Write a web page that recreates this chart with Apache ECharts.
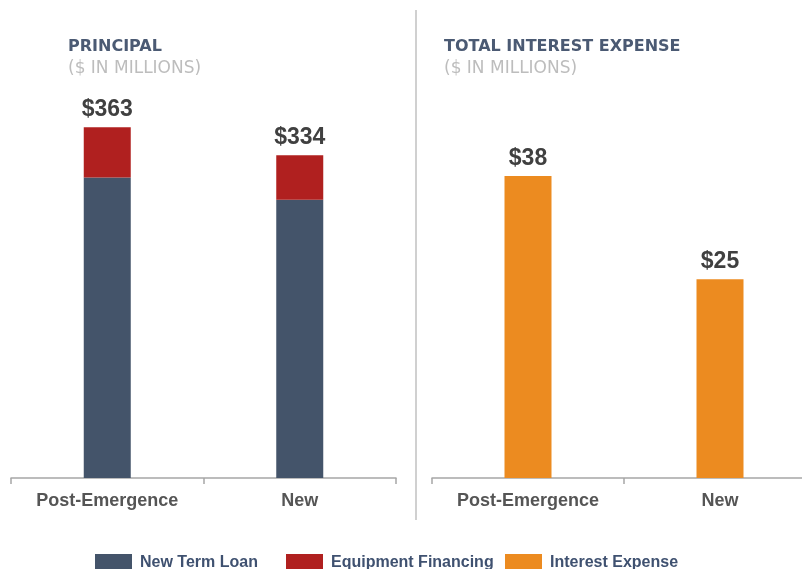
<!DOCTYPE html>
<html>
<head>
<meta charset="utf-8">
<script src="https://cdn.jsdelivr.net/npm/echarts@6/dist/echarts.min.js"></script>
<style>
  html, body { margin: 0; padding: 0; background: #fff; }
  #chart { width: 802px; height: 569px; }
</style>
</head>
<body>
<div id="chart"></div>
<script>
// categories shared by both panels
var categories = ['Post-Emergence', 'New'];

// principal ($ millions), stacked
var termLoan = [311, 288];
var equipFinancing = [52, 46];

// total interest expense ($ millions)
var interestExpense = [38, 25];

var principalTotals = termLoan.map(function (v, i) { return v + equipFinancing[i]; });

var blue = '#44546a', red = '#b0201f', orange = '#ec8b20';
var labelFont = 'Liberation Sans, Arial, sans-serif';

var chart = echarts.init(document.getElementById('chart'));

function xAxisFor(idx) {
    return {
        type: 'category',
        gridIndex: idx,
        data: categories,
        axisLine: { lineStyle: { color: '#a6a6a6', width: 1.5 } },
        axisTick: { show: true, length: 6, lineStyle: { color: '#a6a6a6', width: 1.5 } },
        axisLabel: {
            margin: 14,
            fontFamily: labelFont,
            fontSize: 18,
            fontWeight: 'bold',
            color: '#555555'
        }
    };
}

function yAxisFor(idx, max) {
    return {
        type: 'value',
        gridIndex: idx,
        min: 0,
        max: max,
        show: false,
        splitLine: { show: false }
    };
}

// one legend per item, the gaps in the original are uneven
function legendFor(name, left) {
    return {
        left: left,
        top: 549,
        icon: 'rect',
        itemWidth: 37,
        itemHeight: 18,
        data: [name],
        textStyle: {
            fontFamily: labelFont,
            fontSize: 16,
            fontWeight: 'bold',
            color: '#3f5170',
            padding: [0, 0, 0, 3]
        }
    };
}

var valueLabel = {
    show: true,
    position: 'top',
    distance: 6,
    fontFamily: labelFont,
    fontSize: 23,
    fontWeight: 'bold',
    color: '#404040'
};

var titleStyle = { fontFamily: 'DejaVu Sans', fontSize: 16, fontWeight: 'bold', color: '#4b5a73' };
var subStyle = { fontFamily: 'DejaVu Sans', fontSize: 17, color: '#bdbdbd' };

var option = {
    animation: false,
    title: [
        {
            text: 'PRINCIPAL',
            subtext: '($ IN MILLIONS)',
            left: 63,
            top: 34,
            itemGap: 5,
            textStyle: titleStyle,
            subtextStyle: subStyle
        },
        {
            text: 'TOTAL INTEREST EXPENSE',
            subtext: '($ IN MILLIONS)',
            left: 439,
            top: 34,
            itemGap: 5,
            textStyle: titleStyle,
            subtextStyle: subStyle
        }
    ],
    legend: [
        legendFor('New Term Loan', 90),
        legendFor('Equipment Financing', 281),
        legendFor('Interest Expense', 500)
    ],
    grid: [
        { left: 11, width: 385, top: 106, bottom: 91, outerBoundsMode: 'none' },
        { left: 432, width: 384, top: 106, bottom: 91, outerBoundsMode: 'none' }
    ],
    xAxis: [xAxisFor(0), xAxisFor(1)],
    yAxis: [yAxisFor(0, 385), yAxisFor(1, 46.8)],
    series: [
        {
            name: 'New Term Loan',
            type: 'bar',
            stack: 'principal',
            xAxisIndex: 0,
            yAxisIndex: 0,
            barWidth: 47,
            itemStyle: { color: blue },
            data: termLoan
        },
        {
            name: 'Equipment Financing',
            type: 'bar',
            stack: 'principal',
            xAxisIndex: 0,
            yAxisIndex: 0,
            barWidth: 47,
            itemStyle: { color: red },
            label: Object.assign({}, valueLabel, {
                formatter: function (p) { return '$' + principalTotals[p.dataIndex]; }
            }),
            data: equipFinancing
        },
        {
            name: 'Interest Expense',
            type: 'bar',
            xAxisIndex: 1,
            yAxisIndex: 1,
            barWidth: 47,
            itemStyle: { color: orange },
            label: Object.assign({}, valueLabel, {
                formatter: function (p) { return '$' + p.value; }
            }),
            data: interestExpense
        }
    ],
    graphic: [
        {
            type: 'line',
            shape: { x1: 416, y1: 10, x2: 416, y2: 520 },
            style: { stroke: '#d0d0d0', lineWidth: 2 }
        }
    ]
};

chart.setOption(option);
</script>
</body>
</html>
